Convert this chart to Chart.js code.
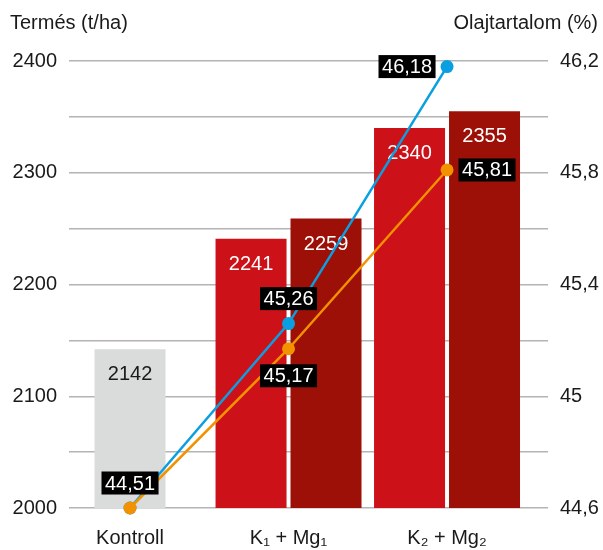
<!DOCTYPE html>
<html>
<head>
<meta charset="utf-8">
<title>Termés és olajtartalom</title>
<script src="https://cdn.jsdelivr.net/npm/chart.js@4/dist/chart.umd.min.js"></script>
<style>
  html, body { margin: 0; padding: 0; background: #ffffff; }
  #wrap { width: 603px; height: 550px; position: relative; }
</style>
</head>
<body>
<div id="wrap"><canvas id="chart" width="603" height="550"></canvas></div>
<script>
// Categories and values
const categories = ['Kontroll', 'K\u2081 + Mg\u2081', 'K\u2082 + Mg\u2082'];
const yieldControl = [2142, null, null];
const yieldFirst = [null, 2241, 2340];
const yieldSecond = [null, 2259, 2355];
const oilBlue = [44.51, 45.26, 46.18];
const oilOrange = [44.51, 45.17, 45.81];

// Labelled ticks on both value axes
const yieldTicks = [2000, 2100, 2200, 2300, 2400];
const oilTicks = [44.6, 45, 45.4, 45.8, 46.2];

const leftTitle = 'Termés (t/ha)';
const rightTitle = 'Olajtartalom (%)';

const FONT = '"Liberation Sans", Arial, Helvetica, sans-serif';
const TEXT = '#1a1a1a';

const fmt = v => String(Number(v.toFixed(2))).replace('.', ',');

// Linear scale that pins values below its minimum to the bottom edge
class FloorLinearScale extends Chart.LinearScale {
  getPixelForValue(value) {
    return super.getPixelForValue(Math.max(value, this.min));
  }
}
FloorLinearScale.id = 'floorLinear';
Chart.register(FloorLinearScale);

const toPoints = arr => arr.map((v, i) => ({ x: i, y: v }));

// Value text on top of each bar
const barValues = {
  id: 'barValues',
  afterDatasetDraw(chart, args) {
    const ds = chart.data.datasets[args.index];
    if (ds.type !== 'bar') return;
    const ctx = chart.ctx;
    ctx.save();
    ctx.font = '20px ' + FONT;
    ctx.fillStyle = ds.valueColor;
    ctx.textAlign = 'center';
    ctx.textBaseline = 'alphabetic';
    args.meta.data.forEach((el, i) => {
      const v = ds.data[i].y;
      if (v === null || v === undefined) return;
      ctx.fillText(String(v), el.x, el.y + 31);
    });
    ctx.restore();
  }
};

// Black value boxes next to the line points
const pointBoxes = {
  id: 'pointBoxes',
  afterDatasetsDraw(chart) {
    const ctx = chart.ctx;
    ctx.save();
    ctx.font = '20px ' + FONT;
    ctx.textAlign = 'center';
    ctx.textBaseline = 'middle';
    chart.data.datasets.forEach((ds, di) => {
      if (ds.type !== 'line') return;
      const meta = chart.getDatasetMeta(di);
      meta.data.forEach((pt, i) => {
        const place = ds.boxPlace[i];
        if (!place) return;
        const text = fmt(ds.data[i].y);
        const w = ctx.measureText(text).width + 7;
        const h = 23;
        let cx = pt.x, cy = pt.y;
        if (place === 'top') cy -= 25;
        if (place === 'bottom') cy += 27;
        if (place === 'left') cx -= 40;
        if (place === 'right') cx += 40;
        ctx.fillStyle = '#000000';
        ctx.fillRect(cx - w / 2, cy - h / 2, w, h);
        ctx.fillStyle = '#ffffff';
        ctx.fillText(text, cx, cy + 1);
      });
    });
    ctx.restore();
  }
};

// Axis headings above both value axes
const axisHeadings = {
  id: 'axisHeadings',
  afterDraw(chart) {
    const ctx = chart.ctx;
    ctx.save();
    ctx.font = '20px ' + FONT;
    ctx.fillStyle = TEXT;
    ctx.textBaseline = 'alphabetic';
    ctx.textAlign = 'left';
    ctx.fillText(leftTitle, 10, 29);
    ctx.textAlign = 'right';
    ctx.fillText(rightTitle, chart.width - 5, 29);
    ctx.restore();
  }
};

Chart.defaults.font.family = FONT;
Chart.defaults.font.size = 20;
Chart.defaults.color = TEXT;

const GRID = '#b4b4b4';

new Chart(document.getElementById('chart'), {
  data: {
    labels: categories,
    datasets: [
      {
        type: 'line', label: 'Olajtartalom A', data: toPoints(oilOrange), yAxisID: 'y1',
        borderColor: '#f39200', backgroundColor: '#f39200', borderWidth: 2.5,
        pointRadius: 6.5, pointHoverRadius: 6.5, pointBorderWidth: 0, tension: 0,
        clip: false, order: 0, boxPlace: [null, 'bottom', 'right']
      },
      {
        type: 'line', label: 'Olajtartalom B', data: toPoints(oilBlue), yAxisID: 'y1',
        borderColor: '#0a9fe1', backgroundColor: '#0a9fe1', borderWidth: 2.5,
        pointRadius: 6.5, pointHoverRadius: 6.5, pointBorderWidth: 0, tension: 0,
        clip: false, order: 1, boxPlace: ['top', 'top', 'left']
      },
      {
        type: 'bar', label: 'Kontroll', data: toPoints(yieldControl), yAxisID: 'y',
        backgroundColor: '#dadbdb', categoryPercentage: 0.473, barPercentage: 0.947,
        order: 2, valueColor: TEXT
      },
      {
        type: 'bar', label: 'Termés 1', data: toPoints(yieldFirst), yAxisID: 'y',
        backgroundColor: '#cd1118', categoryPercentage: 0.946, barPercentage: 0.947,
        order: 2, valueColor: '#ffffff'
      },
      {
        type: 'bar', label: 'Termés 2', data: toPoints(yieldSecond), yAxisID: 'y',
        backgroundColor: '#9c1007', categoryPercentage: 0.946, barPercentage: 0.947,
        order: 2, valueColor: '#ffffff'
      }
    ]
  },
  options: {
    responsive: false,
    animation: false,
    layout: { padding: { top: 61, left: 0, right: 0, bottom: 0 } },
    plugins: { legend: { display: false }, tooltip: { enabled: false } },
    datasets: { bar: { skipNull: true } },
    scales: {
      x: {
        type: 'linear',
        offset: false,
        min: -0.385, max: 2.637,
        grid: { display: false, drawTicks: false, offset: false },
        border: { display: false },
        afterBuildTicks: s => { s.ticks = categories.map((c, i) => ({ value: i })); },
        afterFit: s => { s.height = 42; },
        ticks: {
          padding: 18,
          autoSkip: false,
          maxRotation: 0,
          callback: v => categories[v] ?? ''
        }
      },
      y: {
        position: 'left',
        min: 2000, max: 2400,
        grid: { color: GRID, lineWidth: 1.5, drawTicks: false },
        border: { display: false },
        afterFit: s => { s.width = 69; },
        ticks: {
          stepSize: 50, padding: 12, autoSkip: false,
          callback: v => yieldTicks.includes(v) ? String(v) : ''
        }
      },
      y1: {
        type: 'floorLinear',
        position: 'right',
        min: 44.6, max: 46.2,
        grid: { display: false, drawTicks: false },
        border: { display: false },
        afterFit: s => { s.width = 55; },
        ticks: {
          stepSize: 0.2, padding: 12, autoSkip: false,
          callback: v => oilTicks.some(t => Math.abs(t - v) < 1e-6) ? fmt(v) : ''
        }
      }
    }
  },
  plugins: [barValues, pointBoxes, axisHeadings]
});
</script>
</body>
</html>
